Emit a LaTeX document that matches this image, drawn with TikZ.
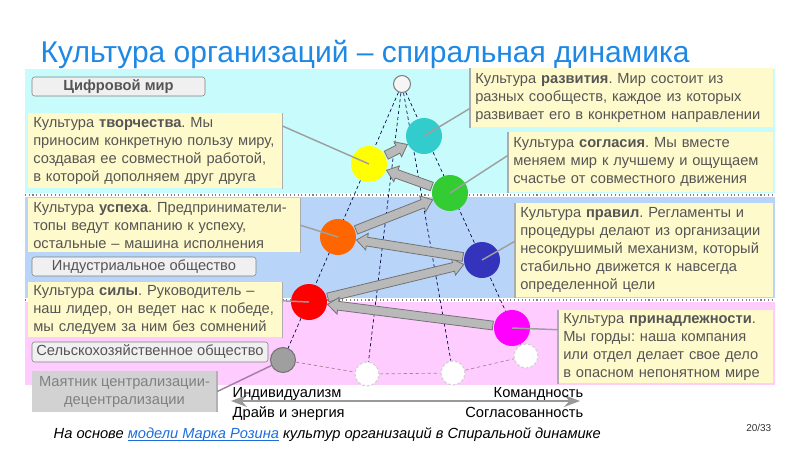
\documentclass[tikz,border=0pt]{standalone}
\usepackage{fontspec}
\setmainfont{Liberation Sans}
\usepackage{tikz}
\usetikzlibrary{calc,positioning,backgrounds,arrows.meta}
\definecolor{titleblue}{RGB}{30,136,229}
\definecolor{bandcyan}{RGB}{200,252,252}
\definecolor{bandblue}{RGB}{184,212,248}
\definecolor{bandpink}{RGB}{255,204,255}
\definecolor{boxyellow}{RGB}{255,250,204}
\definecolor{spcyan}{RGB}{51,204,204}
\definecolor{spyellow}{RGB}{255,255,0}
\definecolor{spgreen}{RGB}{51,204,51}
\definecolor{sporange}{RGB}{255,102,0}
\definecolor{spblue}{RGB}{51,51,187}
\definecolor{spred}{RGB}{255,0,0}
\definecolor{spmagenta}{RGB}{255,0,255}
\definecolor{textgray}{RGB}{85,85,85}
\definecolor{linkblue}{RGB}{30,110,220}
\definecolor{mauve}{RGB}{160,130,160}
\frenchspacing
\newcommand{\linkline}[1]{\underline{\smash{#1}}}

% block arrow between two circles
\newcommand{\spiralarrow}[2]{%
  \coordinate (sa-a) at ($(#1)!14.5pt!(#2)$);
  \coordinate (sa-b) at ($(#2)!14pt!(#1)$);
  \coordinate (sa-h) at ($(sa-b)!8pt!(sa-a)$);
  \draw[spiral arrow] ($(sa-a)!3.3pt!90:(sa-b)$) -- ($(sa-h)!3.3pt!90:(sa-b)$)
    -- ($(sa-h)!6.3pt!90:(sa-b)$) -- (sa-b) -- ($(sa-h)!6.3pt!-90:(sa-b)$)
    -- ($(sa-h)!3.3pt!-90:(sa-b)$) -- ($(sa-a)!3.3pt!-90:(sa-b)$) -- cycle;
}

\begin{document}
\begin{tikzpicture}[x=0.75pt, y=-0.75pt,
  culture/.style={fill=boxyellow, text=textgray, align=left, anchor=north west,
    inner xsep=3.75pt, inner ysep=2pt, font=\fontsize{11}{13.5}\selectfont},
  era/.style={draw=gray, fill=gray!12, rounded corners=2pt, text=textgray,
    inner sep=0pt, font=\fontsize{11}{13.5}\selectfont},
  ball/.style={circle, inner sep=0pt, minimum size=27pt},
  ghost/.style={circle, inner sep=0pt, minimum size=18pt, fill=white, draw=gray!35,
    dash pattern=on 2pt off 1.5pt, line width=0.9pt},
  radial/.style={dash pattern=on 2.5pt off 2pt, draw=black!70!blue, line width=0.5pt},
  spiral arrow/.style={fill=gray!55, draw=gray!90!black, line width=0.6pt},
  link/.style={draw=gray!75, line width=1.1pt},
  boxbar/.style={draw=gray!65, line width=1.3pt},
  axis/.style={draw=gray!80, line width=1.5pt,
    {Stealth[length=12pt,width=9pt,inset=4pt]}-{Stealth[length=12pt,width=9pt,inset=4pt]}},
  plain/.style={font=\fontsize{11}{13.5}\selectfont}]

\useasboundingbox (0,0) rectangle (800,450);

\begin{scope}[on background layer]
  \fill[white] (0,0) rectangle (800,450);
  \fill[bandcyan] (25,69) rectangle (775,193);
  \fill[bandblue] (25,197) rectangle (775,298);
  \fill[bandpink] (25,302) rectangle (775,385);
  \draw[gray, dotted, line width=0.8pt] (25,195) -- (775,195);
  \draw[gray, dotted, line width=0.8pt] (25,300) -- (775,300);
\end{scope}

\node[anchor=base west, text=titleblue, font=\fontsize{22.5}{26}\selectfont] (title) at (36,62)
  {Культура организаций – спиральная динамика};

% spiral
\node[circle, inner sep=0pt, minimum size=12.75pt, fill=gray!8, draw=gray, line width=0.8pt] (top) at (402,84) {};
\foreach \n/\c/\p in {turq/spcyan/{424,136}, yel/spyellow/{369,164}, grn/spgreen/{450,193},
    orng/sporange/{338,237}, blu/spblue/{482,260}, rd/spred/{309,302}, mag/spmagenta/{512,328}}
  \node[ball, fill=\c] (\n) at (\p) {};
\node[circle, inner sep=0pt, minimum size=18.75pt, fill=gray!75, draw=gray!90!black, line width=0.8pt] (grey) at (283,360) {};
\node[ghost] (w1) at (367,374) {};
\node[ghost] (w2) at (453,373) {};
\node[ghost] (w3) at (526,356) {};

\begin{scope}[on background layer]
  \foreach \e in {grey,w1,w2,w3}
    \draw[radial] (top) -- (\e);
  \draw[radial, draw=gray!80!magenta] (grey) -- (w1) -- (w2) -- (w3);
\end{scope}

\foreach \s/\d in {rd/blu, mag/rd, blu/orng, orng/grn, grn/yel, yel/turq}
  {\spiralarrow{\s}{\d}}

% eras
\node[era, minimum width=129.75pt, minimum height=14.25pt, font=\bfseries\fontsize{11}{13.5}\selectfont] (cifr) at (118.5,86.5) {Цифровой мир};
\node[era, minimum width=168pt, minimum height=14.25pt] (indus) at (144,266.5) {Индустриальное общество};
\node[era, minimum width=177pt, minimum height=15pt] (selsk) at (150,352) {Сельскохозяйственное общество};
\node[fill=gray!35, text=gray, align=center, inner sep=0pt, minimum width=138.75pt, minimum height=30.75pt,
  font=\fontsize{11}{13.5}\selectfont] (mayat) at (124.5,391.5) {Маятник централизации-\\децентрализации};

% cultures
\node[culture, text width=183pt, minimum height=56.25pt] (tvor) at (28,113)
  {Культура \textbf{творчества}. Мы\\приносим конкретную пользу миру,\\создавая ее совместной работой,\\в которой дополняем друг друга};
\node[culture, text width=196.5pt, minimum height=40.5pt] (uspeh) at (28,198)
  {Культура \textbf{успеха}. Предприниматели-\\топы ведут компанию к успеху,\\остальные – машина исполнения};
\node[culture, text width=183pt, minimum height=41.25pt] (sila) at (28,282)
  {Культура \textbf{силы}. Руководитель –\\наш лидер, он ведет нас к победе,\\мы следуем за ним без сомнений};
\node[culture, text width=219.75pt, minimum height=44.25pt] (razv) at (470,68)
  {Культура \textbf{развития}. Мир состоит из\\разных сообществ, каждое из которых\\развивает его в конкретном направлении};
\node[culture, text width=191.25pt, minimum height=45pt] (soglas) at (508,132)
  {Культура \textbf{согласия}. Мы вместе\\меняем мир к лучшему и ощущаем\\счастье от совместного движения};
\node[culture, text width=186pt, minimum height=70.5pt] (pravil) at (515,203)
  {Культура \textbf{правил}. Регламенты и\\процедуры делают из организации\\несокрушимый механизм, который\\стабильно движется к навсегда\\определенной цели};
\node[culture, text width=153.75pt, minimum height=54.75pt] (prinad) at (558,310)
  {Культура \textbf{принадлежности}.\\Мы горды: наша компания\\или отдел делает свое дело\\в опасном непонятном мире};

\foreach \b in {tvor,uspeh,sila}
  \draw[boxbar] (\b.north east) -- (\b.south east);
\foreach \b in {razv,soglas,pravil,prinad}
  \draw[boxbar] (\b.north west) -- (\b.south west);
\draw[boxbar, draw=gray!60] (mayat.north east) -- (mayat.south east);

\draw[link] (tvor.11) -- (yel.center);
\draw[link] (uspeh.east) -- (orng.center);
\draw[link] (sila.4) -- (rd.center);
\draw[link] (razv.184) -- (turq.center);
\draw[link] (soglas.177) -- (grn.center);
\draw[link] (pravil.176) -- (blu.center);
\draw[link] (prinad.171) -- (mag.center);
\draw[link, draw=mauve] (mayat.east) -- (grey);

% axis
\coordinate (axl) at (231,401);
\coordinate (axr) at (580,401);
\draw[axis] (axl) -- (axr);
\node[plain, anchor=base west] (indiv) at (228,397) {Индивидуализм};
\node[plain, anchor=base west] (drive) at (228,417) {Драйв и энергия};
\node[plain, anchor=base east] (koman) at (588,397) {Командность};
\node[plain, anchor=base east] (sogl) at (588,417) {Согласованность};

\node[anchor=base west, font=\itshape\fontsize{11}{13.5}\selectfont] (source) at (49,438)
  {На основе \textcolor{linkblue}{\linkline{модели Марка Розина}} культур организаций в Спиральной динамике};
\node[anchor=base east, font=\fontsize{7.5}{9}\selectfont, text=black!80] (page) at (776,431) {20/33};
\end{tikzpicture}
\end{document}
